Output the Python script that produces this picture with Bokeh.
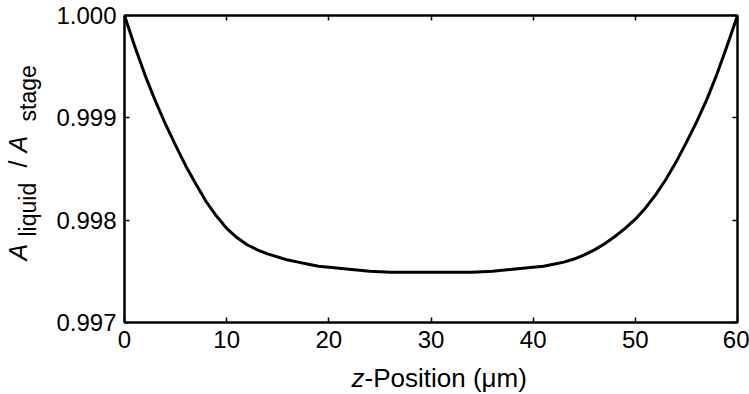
import numpy as np
from bokeh.plotting import figure
from bokeh.layouts import row, column
from bokeh.models import Range1d, FixedTicker, PrintfTickFormatter, LinearAxis, Label
from bokeh.embed import file_html
from bokeh.resources import INLINE

# data
z_um = [0, 1, 2, 3, 4, 5, 6, 7, 8, 9, 10, 11, 12, 13, 14, 15, 16, 17, 18, 19, 20,
        22, 24, 26, 28, 30, 32, 34, 36, 38, 40, 41, 42, 43, 44, 45, 46, 47, 48, 49,
        50, 51, 52, 53, 54, 55, 56, 57, 58, 59, 60]
ratio = [1.00000, 0.99970, 0.99942, 0.99917, 0.99894, 0.99873, 0.99853, 0.99835,
         0.99818, 0.99804, 0.99792, 0.99783, 0.99776, 0.99771, 0.99767, 0.99764,
         0.99761, 0.99759, 0.99757, 0.99755, 0.99754, 0.99752, 0.99750, 0.99749,
         0.99749, 0.99749, 0.99749, 0.99749, 0.99750, 0.99752, 0.99754, 0.99755,
         0.99757, 0.99759, 0.99762, 0.99766, 0.99771, 0.99777, 0.99784, 0.99792,
         0.99801, 0.99812, 0.99825, 0.99840, 0.99857, 0.99876, 0.99896, 0.99918,
         0.99943, 0.99971, 1.00000]
x_ticks = [0, 10, 20, 30, 40, 50, 60]
y_ticks = [0.997, 0.998, 0.999, 1.000]

X0, X1 = 0, 60
Y0, Y1 = 0.997, 1.000
FONT = "Liberation Sans"

TOTAL_W, TOTAL_H = 749, 394
LW = 48            # strip for the y-axis title
BH = 34            # strip for the x-axis title
MW, MH = TOTAL_W - LW, TOTAL_H - BH
ML, MR, MT, MB = 124 - LW, 12, 15, 38
FRAME_L, FRAME_R = 124, TOTAL_W - MR

p = figure(width=MW, height=MH, output_backend="svg", toolbar_location=None,
           x_range=Range1d(X0, X1), y_range=Range1d(Y0, Y1),
           min_border_left=ML, min_border_right=MR, min_border_top=MT,
           min_border_bottom=MB, x_axis_location=None, y_axis_location=None)
p.background_fill_color = "white"
p.border_fill_color = "white"
p.grid.visible = False
p.outline_line_color = "black"
p.outline_line_width = 2

def style_axis(ax, ticks, show_labels, standoff):
    ax.ticker = FixedTicker(ticks=ticks)
    ax.major_tick_in = 5
    ax.major_tick_out = 0
    ax.minor_tick_line_color = None
    ax.major_tick_line_width = 1.5
    ax.major_tick_line_color = "black"
    ax.axis_line_width = 2
    ax.axis_line_color = "black"
    ax.major_label_standoff = standoff
    if show_labels:
        ax.major_label_text_font = FONT
        ax.major_label_text_font_size = "24px"
        ax.major_label_text_color = "black"
    else:
        ax.major_label_text_font_size = "0px"
        ax.major_label_text_alpha = 0

xb = LinearAxis()
style_axis(xb, x_ticks, True, 8)
p.add_layout(xb, "below")
yl = LinearAxis(formatter=PrintfTickFormatter(format="%.3f"))
style_axis(yl, y_ticks, True, 8)
p.add_layout(yl, "left")
xt = LinearAxis()
style_axis(xt, x_ticks, False, 0)
p.add_layout(xt, "above")
yr = LinearAxis()
style_axis(yr, y_ticks, False, 0)
p.add_layout(yr, "right")

p.line(z_um, ratio, line_color="black", line_width=3, line_join="round")

def strip(w, h, xr, yr_):
    f = figure(width=w, height=h, output_backend="svg", toolbar_location=None,
               x_range=xr, y_range=yr_, min_border=0,
               x_axis_location=None, y_axis_location=None)
    f.grid.visible = False
    f.outline_line_color = None
    f.background_fill_color = "white"
    f.border_fill_color = "white"
    return f

# left strip: coordinates equal page pixels (y downward)
left = strip(LW, TOTAL_H, Range1d(0, LW), Range1d(TOTAL_H, 0))
# bottom strip: its frame is aligned with the main frame; coordinates = page pixels
bottom = strip(MW, BH, Range1d(FRAME_L, FRAME_R), Range1d(TOTAL_H, MH))

def lab(f, text, px, py, size, italic=False, angle=0.0):
    f.add_layout(Label(x=px, y=py, text=text, angle=angle,
                       text_font=FONT, text_font_size=size,
                       text_font_style="italic" if italic else "normal",
                       text_color="black", text_align="left",
                       text_baseline="alphabetic"))

R = np.pi / 2
SX = -10   # baseline correction for rotated text
lab(left, "A", 27 + SX, 260, "25px", True, R)
lab(left, "liquid", 37 + SX, 236, "23px", False, R)
lab(left, "/", 27 + SX, 167, "25px", False, R)
lab(left, "A", 27 + SX, 152, "25px", True, R)
lab(left, "stage", 37 + SX, 121, "23px", False, R)

SY = -8    # baseline correction for horizontal text
lab(bottom, "z", 351, 385 + SY, "26px", True)
lab(bottom, "-Position (\u03bcm)", 364, 385 + SY, "26px", False)

layout = row(left, column(p, bottom, spacing=0), spacing=0)
open("out.html", "w").write(file_html(layout, INLINE))
